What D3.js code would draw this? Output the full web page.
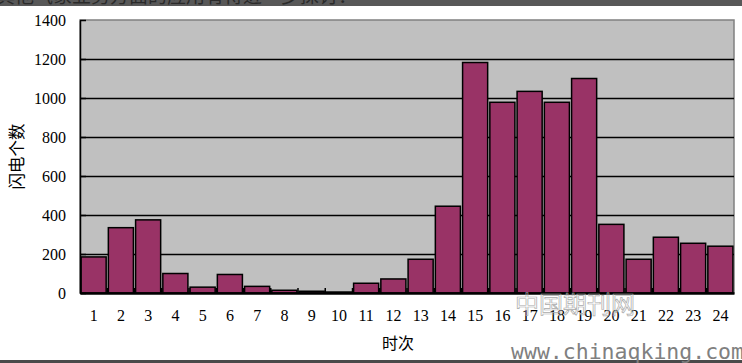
<!DOCTYPE html>
<html>
<head>
<meta charset="utf-8">
<script src="https://cdn.jsdelivr.net/npm/d3@7"></script>
<style>
  body { margin: 0; background: #fff; }
  svg { display: block; }
</style>
</head>
<body>
<div id="chart"></div>
<script>
// hours 1..24 and lightning counts per hour
const hours = d3.range(1, 25).map(String);
const counts = [185, 335, 375, 100, 30, 95, 34, 14, 9, 5, 50, 72, 173, 445,
  1182, 978, 1034, 978, 1100, 352, 173, 286, 255, 240];
const yTicks = [0, 200, 400, 600, 800, 1000, 1200, 1400];

const W = 742, H = 363;
const margin = { top: 20, right: 8, bottom: 70, left: 80 };
const width = W - margin.left - margin.right;
const height = H - margin.top - margin.bottom;

const root = d3.select('#chart').append('svg')
  .attr('width', W)
  .attr('height', H);

// screenshot edges (page strips above and below the chart)
root.append('rect').attr('x', 0).attr('y', 0).attr('width', W).attr('height', 6).attr('fill', '#585858');
root.append('text')
  .attr('x', -4).attr('y', 3)
  .attr('font-family', 'Noto Sans CJK SC')
  .attr('font-size', 19)
  .attr('fill', '#2a2a2a')
  .text('其他气象业务方面的应用有待进一步探讨：');
root.append('rect').attr('x', 0).attr('y', 6).attr('width', W).attr('height', 354).attr('fill', '#fff');
root.append('rect').attr('x', 0).attr('y', 360).attr('width', W).attr('height', 3).attr('fill', '#4a4a4a');

const svg = root.append('g')
  .attr('transform', `translate(${margin.left},${margin.top})`);

const x = d3.scaleBand()
  .domain(hours)
  .range([0, width])
  .paddingInner(0.08)
  .paddingOuter(0.04);

const y = d3.scaleLinear()
  .domain([0, 1400])
  .range([height, 0]);

// plot area
svg.append('rect')
  .attr('width', width)
  .attr('height', height)
  .attr('fill', '#c0c0c0')
  .attr('stroke', '#808080')
  .attr('stroke-width', 1.5);

// gridlines
svg.selectAll('.grid')
  .data(yTicks.filter(d => d > 0 && d < 1400))
  .enter()
  .append('line')
  .attr('x1', 0).attr('x2', width)
  .attr('y1', d => Math.round(y(d)) + 0.5)
  .attr('y2', d => Math.round(y(d)) + 0.5)
  .attr('stroke', '#000')
  .attr('stroke-width', 1.5);

// bars
svg.selectAll('.bar')
  .data(counts)
  .enter()
  .append('rect')
  .attr('x', (d, i) => x(hours[i]))
  .attr('y', d => y(d))
  .attr('width', x.bandwidth())
  .attr('height', d => height - y(d))
  .attr('fill', '#993366')
  .attr('stroke', '#000')
  .attr('stroke-width', 1.5);

// y axis
const yAxis = d3.axisLeft(y)
  .tickValues(yTicks)
  .tickFormat(d3.format('d'))
  .tickSizeInner(-6)
  .tickSizeOuter(0)
  .tickPadding(14);
const gy = svg.append('g').call(yAxis);
gy.select('.domain').attr('stroke', '#000').attr('stroke-width', 1.5);
gy.selectAll('.tick line').attr('stroke', '#000').attr('stroke-width', 1.5);
gy.selectAll('.tick text')
  .attr('font-family', 'Liberation Serif')
  .attr('font-size', 16)
  .attr('fill', '#000');

// x axis
const xAxis = d3.axisBottom(x)
  .tickSize(0)
  .tickPadding(17);
const gx = svg.append('g')
  .attr('transform', `translate(0,${height})`)
  .call(xAxis);
gx.select('.domain').attr('stroke', '#000').attr('stroke-width', 2.5);
gx.selectAll('.tick text')
  .attr('font-family', 'Liberation Serif')
  .attr('font-size', 16)
  .attr('fill', '#000');

// category separators (inward ticks)
svg.selectAll('.xtick')
  .data(d3.range(1, hours.length))
  .enter()
  .append('line')
  .attr('x1', i => x.step() * i)
  .attr('x2', i => x.step() * i)
  .attr('y1', height)
  .attr('y2', height - 5)
  .attr('stroke', '#000')
  .attr('stroke-width', 1.5);

// axis titles
svg.append('text')
  .attr('transform', `translate(${23 - margin.left},${height / 2}) rotate(-90)`)
  .attr('text-anchor', 'middle')
  .attr('font-family', 'Noto Sans CJK SC')
  .attr('font-size', 16.5)
  .text('闪电个数');

svg.append('text')
  .attr('x', 318)
  .attr('y', height + 56)
  .attr('text-anchor', 'middle')
  .attr('font-family', 'Noto Sans CJK SC')
  .attr('font-size', 16)
  .text('时次');

// watermark
root.append('text')
  .attr('x', 515).attr('y', 313)
  .attr('font-family', 'Noto Sans CJK SC')
  .attr('font-size', 24)
  .attr('fill', 'none')
  .attr('stroke', '#aaaaaa')
  .attr('stroke-width', 0.7)
  .text('中国期刊网');
root.append('text')
  .attr('x', 511).attr('y', 359)
  .attr('font-family', 'DejaVu Sans Mono')
  .attr('font-size', 21.5)
  .attr('fill', '#808080')
  .text('www.chinaqking.com');
</script>
</body>
</html>
